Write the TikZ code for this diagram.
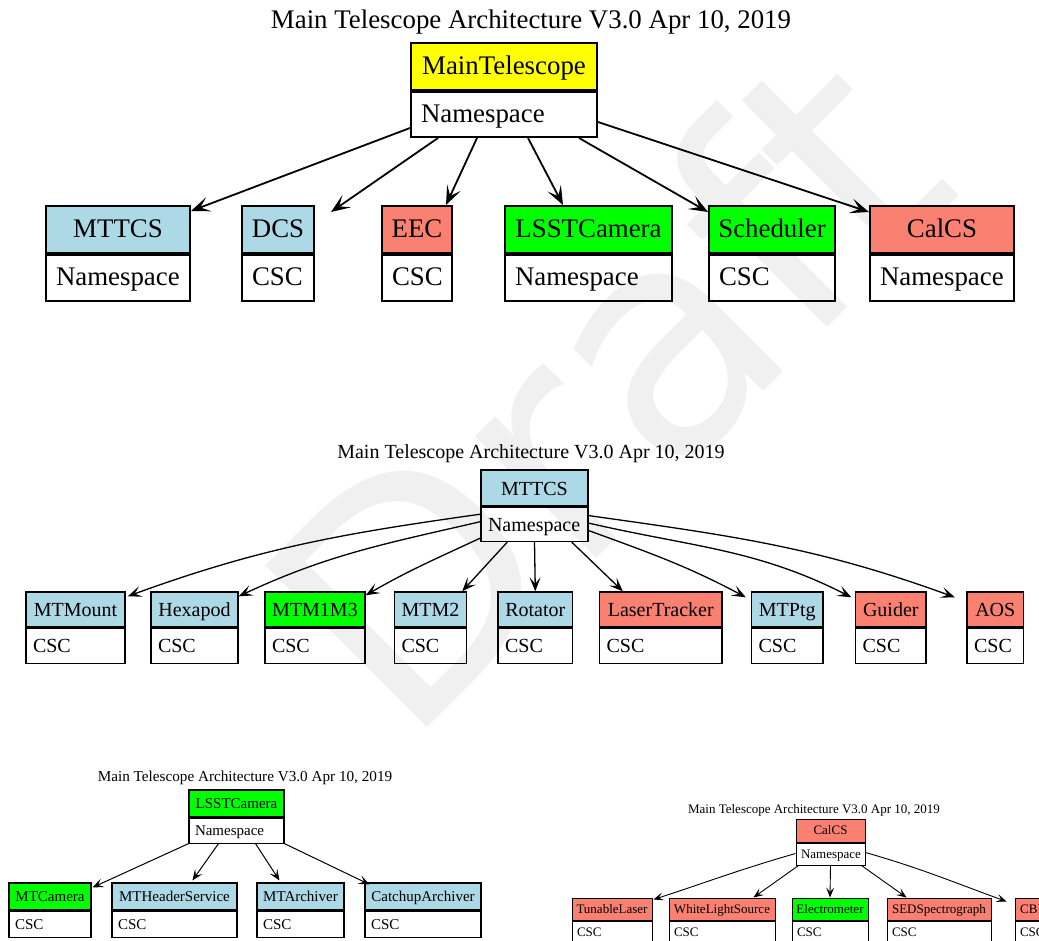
\documentclass[tikz,border=0pt]{standalone}
\usepackage{fontspec}
\setmainfont{Liberation Serif}
\newfontfamily\wmfont{DejaVu Sans}
\usetikzlibrary{arrows.meta}

\definecolor{gvblue}{RGB}{173,216,230}
\definecolor{gvsalmon}{RGB}{250,128,114}
\definecolor{gvgreen}{RGB}{0,255,0}
\definecolor{gvyellow}{RGB}{255,255,0}
\definecolor{wmgray}{RGB}{240,240,240}

\tikzset{
  rec/.style={draw, inner sep=0pt},
  recA/.style={rec, line width=2pt, text height=19pt, text depth=3pt, font=\fontsize{26.85}{30}\selectfont},
  headA/.style={recA, minimum height=47pt},
  bodyA/.style={recA, minimum height=46pt, anchor=north, inner xsep=10pt, align=left},
  recB/.style={rec, line width=1.4pt, text height=15.5pt, text depth=1.5pt, font=\fontsize{20}{24}\selectfont},
  headB/.style={recB, minimum height=35pt},
  bodyB/.style={recB, minimum height=35pt, anchor=north, inner xsep=7pt, align=left},
  recC/.style={rec, line width=1.1pt, text height=11.5pt, text depth=1.5pt, font=\fontsize{15}{18}\selectfont},
  headC/.style={recC, minimum height=27pt},
  bodyC/.style={recC, minimum height=26pt, anchor=north, inner xsep=6pt, align=left},
  recD/.style={rec, line width=1pt, text height=10pt, text depth=1.4pt, font=\fontsize{13}{16}\selectfont},
  headD/.style={recD, minimum height=22pt},
  bodyD/.style={recD, minimum height=22pt, anchor=north, inner xsep=5pt, align=left},
  edgeA/.style={line width=1.8pt, -{Stealth[length=19pt,width=15pt,inset=9pt]}},
  edgeB/.style={line width=1.3pt, -{Stealth[length=14pt,width=11pt,inset=6.5pt]}},
  edgeC/.style={line width=1pt, -{Stealth[length=11pt,width=9pt,inset=5pt]}},
  edgeD/.style={line width=0.9pt, -{Stealth[length=10pt,width=8pt,inset=4.5pt]}},
  title/.style={anchor=base, inner sep=0pt}
}

\begin{document}
\begin{tikzpicture}[x=1pt,y=-1pt]

\useasboundingbox (0,0) rectangle (1039,941);
\clip (0,0) rectangle (1039,941);

% watermark
\node[rotate=45, anchor=base west, inner sep=0pt, text=wmgray, font=\wmfont\fontsize{314}{314}\selectfont] (wm) at (405,750) {Draft};

% MainTelescope
\node[title, font=\fontsize{26.85}{30}\selectfont] (ttlA) at (531,29) {Main Telescope Architecture V3.0 Apr 10, 2019};

\node[headA, fill=gvyellow, minimum width=186pt] (mainA) at (504,66.5) {MainTelescope};
\node[bodyA, minimum height=45pt, text width=166pt] (mainAb) at (mainA.south) {Namespace};

\node[headA, fill=gvblue, minimum width=144pt] (mttcsA) at (118,229.5) {MTTCS};
\node[bodyA, text width=124pt] (mttcsAb) at (mttcsA.south) {Namespace};

\node[headA, fill=gvblue, minimum width=72pt] (dcsA) at (278,229.5) {DCS};
\node[bodyA, text width=52pt] (dcsAb) at (dcsA.south) {CSC};

\node[headA, fill=gvsalmon, minimum width=70pt] (eecA) at (417,229.5) {EEC};
\node[bodyA, text width=50pt] (eecAb) at (eecA.south) {CSC};

\node[headA, fill=gvgreen, minimum width=167pt] (lsstA) at (588.5,229.5) {LSSTCamera};
\node[bodyA, text width=147pt] (lsstAb) at (lsstA.south) {Namespace};

\node[headA, fill=gvgreen, minimum width=126pt] (schedA) at (772,229.5) {Scheduler};
\node[bodyA, text width=106pt] (schedAb) at (schedA.south) {CSC};

\node[headA, fill=gvsalmon, minimum width=144pt] (calcsA) at (942,229.5) {CalCS};
\node[bodyA, text width=124pt] (calcsAb) at (calcsA.south) {Namespace};

\draw[edgeA] ([yshift=10pt]mainAb.south west) -- ([yshift=-6pt]mttcsA.north east);
\draw[edgeA] ([xshift=28pt]mainAb.south west) -- ([xshift=16pt,yshift=-7pt]dcsA.north east);
\draw[edgeA] ([xshift=67pt]mainAb.south west) -- ([xshift=-7pt]eecA.north east);
\draw[edgeA] ([xshift=-70pt]mainAb.south east) -- ([xshift=-25.5pt]lsstA.north);
\draw[edgeA] ([xshift=-19pt]mainAb.south east) -- ([yshift=-7pt]schedA.north west);
\draw[edgeA] ([yshift=16pt]mainAb.south east) -- ([yshift=-7pt]calcsA.north west);

% MTTCS
\node[title, font=\fontsize{20}{24}\selectfont] (ttlB) at (531,458) {Main Telescope Architecture V3.0 Apr 10, 2019};

\node[headB, fill=gvblue, minimum width=107pt, minimum height=36pt] (mttcsB) at (534.5,488) {MTTCS};
\node[bodyB, minimum height=34pt, text width=93pt] (mttcsBb) at (mttcsB.south) {Namespace};

\node[headB, fill=gvblue, minimum width=99pt] (mtmountB) at (75.5,609.5) {MTMount};
\node[bodyB, text width=85pt] (mtmountBb) at (mtmountB.south) {CSC};

\node[headB, fill=gvblue, minimum width=87pt] (hexapodB) at (194.5,609.5) {Hexapod};
\node[bodyB, text width=73pt] (hexapodBb) at (hexapodB.south) {CSC};

\node[headB, fill=gvgreen, minimum width=100pt] (m1m3B) at (315,609.5) {MTM1M3};
\node[bodyB, text width=86pt] (m1m3Bb) at (m1m3B.south) {CSC};

\node[headB, fill=gvblue, minimum width=72pt] (mtm2B) at (430.5,609.5) {MTM2};
\node[bodyB, text width=58pt] (mtm2Bb) at (mtm2B.south) {CSC};

\node[headB, fill=gvblue, minimum width=74.5pt] (rotatorB) at (535.3,609.5) {Rotator};
\node[bodyB, text width=60.5pt] (rotatorBb) at (rotatorB.south) {CSC};

\node[headB, fill=gvsalmon, minimum width=122.5pt] (laserB) at (660.8,609.5) {LaserTracker};
\node[bodyB, text width=108.5pt] (laserBb) at (laserB.south) {CSC};

\node[headB, fill=gvblue, minimum width=71.5pt] (mtptgB) at (787.3,609.5) {MTPtg};
\node[bodyB, text width=57.5pt] (mtptgBb) at (mtptgB.south) {CSC};

\node[headB, fill=gvsalmon, minimum width=70.5pt] (guiderB) at (890.8,609.5) {Guider};
\node[bodyB, text width=56.5pt] (guiderBb) at (guiderB.south) {CSC};

\node[headB, fill=gvsalmon, minimum width=56.5pt] (aosB) at (995.3,609.5) {AOS};
\node[bodyB, text width=42.5pt] (aosBb) at (aosB.south) {CSC};

\draw[edgeB] ([yshift=-7.5pt]mttcsBb.north west) to[out=188,in=20] ([xshift=2pt,yshift=-5pt]mtmountB.north east);
\draw[edgeB] ([yshift=-15pt]mttcsBb.north west) to[out=193,in=25] ([yshift=-5pt]hexapodB.north east);
\draw[edgeB] ([yshift=4pt]mttcsBb.south west) to[out=205,in=30] ([yshift=-4pt]m1m3B.north east);
\draw[edgeB] ([xshift=27pt]mttcsBb.south west) -- ([xshift=-5pt]mtm2B.north east);
\draw[edgeB] (mttcsBb.south) -- (rotatorB.north);
\draw[edgeB] ([xshift=-17pt]mttcsBb.south east) -- ([xshift=24pt]laserB.north west);
\draw[edgeB] ([yshift=11.5pt]mttcsBb.south east) to[out=-20,in=152] ([xshift=-5pt,yshift=-6pt]mtptgB.north west);
\draw[edgeB] ([yshift=19pt]mttcsBb.south east) to[out=-13,in=153] ([xshift=-3.5pt,yshift=-6pt]guiderB.north west);
\draw[edgeB] ([yshift=26.5pt]mttcsBb.south east) to[out=-8,in=160] ([xshift=-11.5pt,yshift=-6pt]aosB.north west);

% LSSTCamera
\node[title, font=\fontsize{15.2}{18}\selectfont] (ttlC) at (245,781) {Main Telescope Architecture V3.0 Apr 10, 2019};

\node[headC, fill=gvgreen, minimum width=95pt] (lsstC) at (236.5,803.5) {LSSTCamera};
\node[bodyC, minimum height=25pt, text width=83pt] (lsstCb) at (lsstC.south) {Namespace};

\node[headC, fill=gvgreen, minimum width=82pt] (mtcameraC) at (50,896.5) {MTCamera};
\node[bodyC, text width=70pt] (mtcameraCb) at (mtcameraC.south) {CSC};

\node[headC, fill=gvblue, minimum width=125pt] (mthdrC) at (174.5,896.5) {MTHeaderService};
\node[bodyC, text width=113pt] (mthdrCb) at (mthdrC.south) {CSC};

\node[headC, fill=gvblue, minimum width=87pt] (mtarchC) at (300.5,896.5) {MTArchiver};
\node[bodyC, text width=75pt] (mtarchCb) at (mtarchC.south) {CSC};

\node[headC, fill=gvblue, minimum width=116pt] (catchupC) at (423,896.5) {CatchupArchiver};
\node[bodyC, text width=104pt] (catchupCb) at (catchupC.south) {CSC};

\draw[edgeC] (lsstCb.south west) -- ([xshift=1pt,yshift=-5pt]mtcameraC.north east);
\draw[edgeC] ([xshift=30pt]lsstCb.south west) -- ([xshift=81pt,yshift=2pt]mthdrC.north west);
\draw[edgeC] ([xshift=-29pt]lsstCb.south east) -- ([xshift=23pt,yshift=2pt]mtarchC.north west);
\draw[edgeC] (lsstCb.south east) -- ([xshift=5pt,yshift=-2pt]catchupC.north west);

% CalCS
\node[title, font=\fontsize{13}{16}\selectfont] (ttlD) at (814,813) {Main Telescope Architecture V3.0 Apr 10, 2019};

\node[headD, fill=gvsalmon, minimum width=69pt, minimum height=23pt] (calcsD) at (830.5,830.5) {CalCS};
\node[bodyD, text width=59pt] (calcsDb) at (calcsD.south) {Namespace};

\node[headD, fill=gvsalmon, minimum width=80pt] (tunableD) at (612,909) {TunableLaser};
\node[bodyD, text width=70pt] (tunableDb) at (tunableD.south) {CSC};

\node[headD, fill=gvsalmon, minimum width=106pt] (whiteD) at (722,909) {WhiteLightSource};
\node[bodyD, text width=96pt] (whiteDb) at (whiteD.south) {CSC};

\node[headD, fill=gvgreen, minimum width=76pt] (electroD) at (830,909) {Electrometer};
\node[bodyD, text width=66pt] (electroDb) at (electroD.south) {CSC};

\node[headD, fill=gvsalmon, minimum width=104pt] (sedD) at (939,909) {SEDSpectrograph};
\node[bodyD, text width=94pt] (sedDb) at (sedD.south) {CSC};

\node[headD, fill=gvsalmon, minimum width=35pt] (cbpD) at (1032.5,909) {CBP};
\node[bodyD, text width=25pt] (cbpDb) at (cbpD.south) {CSC};

\draw[edgeD] ([yshift=-11pt]calcsDb.north west) to[out=196,in=18] ([xshift=1pt,yshift=-2pt]tunableD.north east);
\draw[edgeD] ([xshift=3pt]calcsDb.south west) -- ([xshift=-22pt]whiteD.north east);
\draw[edgeD] (calcsDb.south) -- (electroD.north);
\draw[edgeD] ([xshift=-4pt]calcsDb.south east) -- ([xshift=20pt]sedD.north west);
\draw[edgeD] ([yshift=-10pt]calcsDb.north east) to[out=-16,in=160] ([xshift=-8pt,yshift=-4pt]cbpD.north west);

\end{tikzpicture}
\end{document}
